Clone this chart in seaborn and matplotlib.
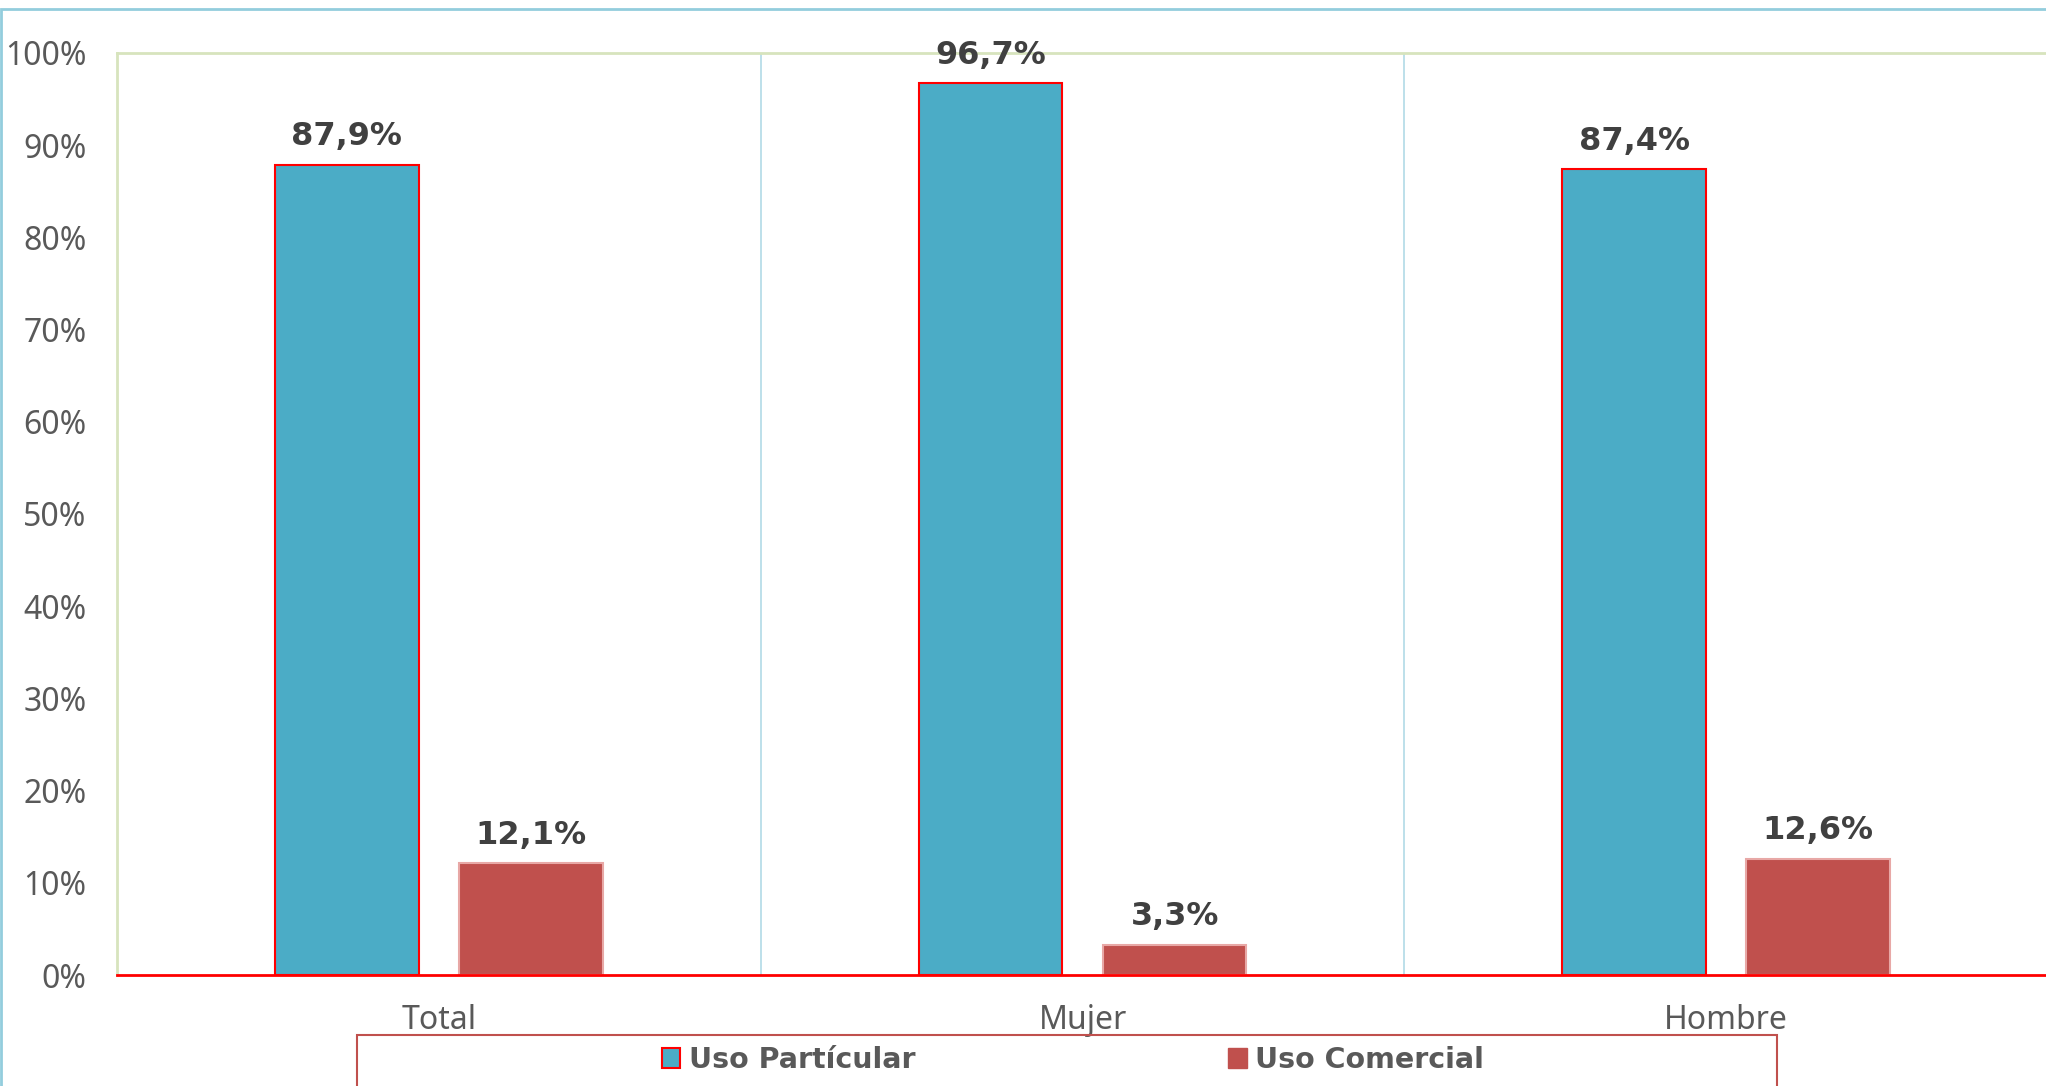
import pandas as pd
import matplotlib
matplotlib.use("Agg")
import matplotlib.pyplot as plt
from matplotlib.patches import Patch, Rectangle
import seaborn as sns

sns.set_theme(style="white")
plt.rcParams['font.family'] = ['Noto Sans', 'DejaVu Sans']

# Datos
categorias = ['Total', 'Mujer', 'Hombre']
series = ['Uso Partícular', 'Uso Comercial']
uso_particular = [87.9, 96.7, 87.4]
uso_comercial = [12.1, 3.3, 12.6]
ticks_y = [0, 10, 20, 30, 40, 50, 60, 70, 80, 90, 100]

df = pd.DataFrame({
    'categoria': categorias * 2,
    'serie': [series[0]] * 3 + [series[1]] * 3,
    'valor': uso_particular + uso_comercial,
})

azul = '#4BACC6'
rojo = '#C0504D'

fig = plt.figure(figsize=(20.46, 10.86), dpi=100)
ax = fig.add_axes([117 / 2046, 1 - 975 / 1086, 1 - 117 / 2046 + 0.001, (975 - 53) / 1086])

sns.barplot(data=df, x='categoria', y='valor', hue='serie', order=categorias,
            hue_order=series, palette=[azul, rojo], width=0.572, gap=0.22,
            legend=False, ax=ax, saturation=1)

# bordes de las barras
for cont, ec in zip(ax.containers, ['#FF0000', '#E8A8A6']):
    for p in cont:
        p.set_edgecolor(ec)
        p.set_linewidth(1.5)

# etiquetas de datos
for cont, vals in zip(ax.containers, [uso_particular, uso_comercial]):
    ax.bar_label(cont, labels=[f"{v:.1f}%".replace('.', ',') for v in vals],
                 padding=9, fontsize=23, fontweight='bold', color='#404040',
                 family=['DejaVu Sans'])

ax.set_xlim(-0.5, 2.5)
ax.set_ylim(0, 100)
ax.set_yticks(ticks_y)
ax.set_yticklabels([f"{t}%" for t in ticks_y])
ax.tick_params(axis='y', length=0, pad=22, labelsize=23, labelcolor='#595959')
ax.tick_params(axis='x', length=0, pad=21, labelsize=23, labelcolor='#595959')
ax.set_xlabel('')
ax.set_ylabel('')

# separadores verticales entre categorías
for xs in [0.5, 1.5]:
    ax.axvline(xs, color='#B7DDE8', linewidth=1.3, zorder=0)

for lado in ['top', 'left']:
    ax.spines[lado].set_color('#D7E4BD')
    ax.spines[lado].set_linewidth(2)
ax.spines['right'].set_visible(False)
ax.spines['bottom'].set_color('#FF0000')
ax.spines['bottom'].set_linewidth(2)

# borde exterior del gráfico
fig.patches.append(Rectangle((1 / 2046, -0.1), 1.2, 1.1 - 9 / 1086,
                             transform=fig.transFigure, fill=False,
                             edgecolor='#93CDDD', linewidth=2))

# leyenda
fig.patches.append(Rectangle((357 / 2046, -0.02), 1420 / 2046, 0.02 + (1086 - 1035) / 1086,
                             transform=fig.transFigure, fill=False,
                             edgecolor=rojo, linewidth=1.5))
handles = [Patch(facecolor=azul, edgecolor='#FF0000', linewidth=1.5),
           Patch(facecolor=rojo, edgecolor=rojo)]
fig.legend(handles, series, loc='center', bbox_to_anchor=(1073 / 2046, 1 - 1060 / 1086),
           ncol=2, frameon=False, handlelength=0.65, handleheight=0.65,
           handletextpad=0.3, columnspacing=11.0,
           prop={'family': ['DejaVu Sans Condensed', 'DejaVu Sans'],
                 'weight': 'bold', 'size': 20.5},
           labelcolor='#595959')

fig.savefig('out.png', dpi=100)
